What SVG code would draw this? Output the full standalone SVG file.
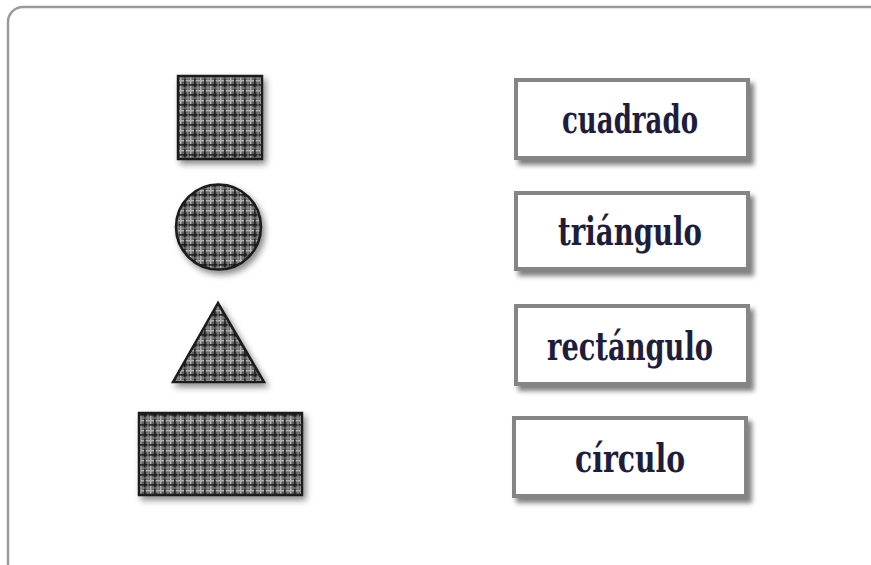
<svg xmlns="http://www.w3.org/2000/svg" width="871" height="565" viewBox="0 0 871 565">
<style>
.frame{fill:#fff;stroke:#9a9a9a;stroke-width:2.5}
.shape{fill:url(#plaid);stroke:#1a1a1a;stroke-width:2.5;filter:url(#sh)}
.box{fill:#fff;stroke:#858585;stroke-width:4;filter:url(#sh2)}
.lbl{font-family:"DejaVu Serif Condensed","DejaVu Serif",serif;font-weight:bold;font-size:40px;fill:#1e1e3c;text-anchor:middle}
</style>
<defs>
<pattern id="plaid" patternUnits="userSpaceOnUse" width="10" height="10">
<rect width="10" height="10" fill="#606060"/>
<rect x="0" y="0" width="1.4" height="10" fill="#b4b4b4"/>
<rect x="0" y="0" width="10" height="1.4" fill="#b4b4b4"/>
<rect x="4.2" y="0" width="1.4" height="10" fill="#161616"/>
<rect x="0" y="4.2" width="10" height="1.4" fill="#161616"/>
<rect x="7.6" y="0" width="0.8" height="10" fill="#999"/>
<rect x="0" y="7.6" width="10" height="0.8" fill="#999"/>
</pattern>
<filter id="sh" x="-20%" y="-20%" width="150%" height="150%">
<feDropShadow dx="3" dy="4" stdDeviation="3" flood-color="#000" flood-opacity="0.45"/>
</filter>
<filter id="sh2" x="-10%" y="-20%" width="130%" height="150%">
<feDropShadow dx="4" dy="5" stdDeviation="2.5" flood-color="#000" flood-opacity="0.5"/>
</filter>
</defs>
<rect class="frame" x="8" y="7" width="900" height="580" rx="15"/>
<g id="shape-square"><rect class="shape" x="178" y="76" width="84" height="83"/></g>
<g id="shape-circle"><circle class="shape" cx="218.5" cy="227" r="42.5"/></g>
<g id="shape-triangle"><polygon class="shape" points="218,303 173,382 264,382"/></g>
<g id="shape-rectangle"><rect class="shape" x="139" y="413" width="163" height="82"/></g>
<g id="label-cuadrado"><rect class="box" x="516" y="80" width="232" height="78"/><text class="lbl" x="630" y="133" textLength="136" lengthAdjust="spacingAndGlyphs">cuadrado</text></g>
<g id="label-triangulo"><rect class="box" x="516" y="193" width="232" height="76"/><text class="lbl" x="630" y="245" textLength="144" lengthAdjust="spacingAndGlyphs">triángulo</text></g>
<g id="label-rectangulo"><rect class="box" x="516" y="306" width="232" height="78"/><text class="lbl" x="630" y="360" textLength="166" lengthAdjust="spacingAndGlyphs">rectángulo</text></g>
<g id="label-circulo"><rect class="box" x="514" y="418" width="232" height="78"/><text class="lbl" x="630" y="472" textLength="110" lengthAdjust="spacingAndGlyphs">círculo</text></g>
<g id="connectors"></g>
</svg>
